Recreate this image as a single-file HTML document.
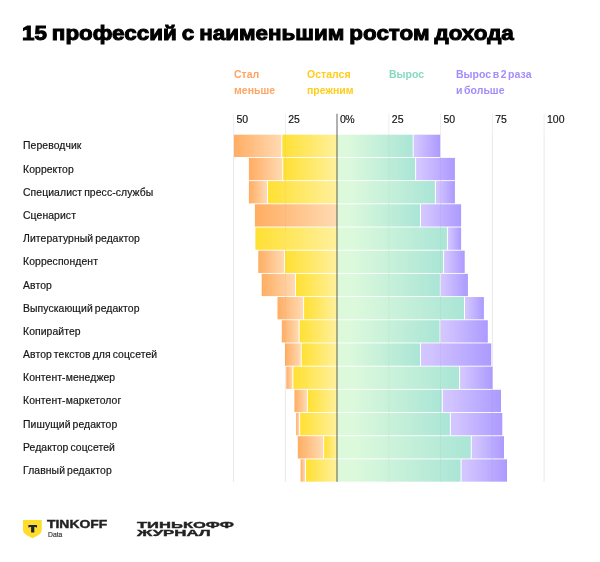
<!DOCTYPE html>
<html lang="ru"><head><meta charset="utf-8"><title>15 профессий с наименьшим ростом дохода</title>
<style>
html,body{margin:0;padding:0;background:#fff;}
body{width:600px;height:562px;position:relative;overflow:hidden;font-family:"Liberation Sans",sans-serif;color:#1a1a1a;}
.abs{position:absolute;white-space:nowrap;}
h1{position:absolute;left:22.4px;top:18.6px;margin:0;font-size:20.8px;line-height:28px;font-weight:700;letter-spacing:0;color:#000;white-space:nowrap;-webkit-text-stroke:1px #000;word-spacing:-1.2px;transform-origin:0 0;transform:scaleX(1.078);}
.lg{position:absolute;top:66px;font-size:10.5px;line-height:16.2px;font-weight:700;letter-spacing:0.02px;word-spacing:-1.4px;}
.ax{position:absolute;top:112.7px;font-size:10.5px;line-height:12px;color:#111;-webkit-text-stroke:0.15px #111;}
.gl{position:absolute;top:113.5px;width:1px;height:368.5px;background:#ececec;}
.gl2{position:absolute;top:134px;width:1px;height:348px;background:rgba(0,0,0,0.04);z-index:4;}
.zl{position:absolute;top:113px;left:336.6px;width:1.6px;height:369px;background:#979797;z-index:5;}
.lb{position:absolute;left:23px;font-size:10.4px;line-height:22px;height:22px;color:#151515;letter-spacing:0.09px;word-spacing:-1.0px;-webkit-text-stroke:0.18px #151515;white-space:nowrap;}
.s{position:absolute;height:22.3px;}
.o{background:linear-gradient(90deg,#ffa963,#ffd9bb);}
.y{background:linear-gradient(90deg,#ffe033,#fff0a0);}
.g{background:linear-gradient(90deg,#ddf9dc,#a9e5d6);}
.p{background:linear-gradient(90deg,#d3c4ff,#aa95fd);}
</style></head><body>
<h1>15 профессий с наименьшим ростом дохода</h1>
<div class="lg" style="left:234px;color:#ffa462">Стал<br>меньше</div>
<div class="lg" style="left:307px;color:#ffcd1a">Остался<br>прежним</div>
<div class="lg" style="left:389px;color:#86d9c0">Вырос</div>
<div class="lg" style="left:456px;color:#a48dfb">Вырос в 2 раза<br>и больше</div>

<div class="ax" style="left:236.5px">50</div>
<div class="ax" style="left:288.2px">25</div>
<div class="ax" style="left:391.8px">25</div>
<div class="ax" style="left:443.5px">50</div>
<div class="ax" style="left:495.2px">75</div>
<div class="ax" style="left:547.0px">100</div>
<div class="ax" style="left:340px;letter-spacing:-0.5px">0%</div>
<div class="lb" style="top:135.40px">Переводчик</div>
<div class="lb" style="top:158.59px">Корректор</div>
<div class="lb" style="top:181.78px">Специалист пресс-службы</div>
<div class="lb" style="top:204.97px">Сценарист</div>
<div class="lb" style="top:228.16px">Литературный редактор</div>
<div class="lb" style="top:251.35px">Корреспондент</div>
<div class="lb" style="top:274.54px">Автор</div>
<div class="lb" style="top:297.73px">Выпускающий редактор</div>
<div class="lb" style="top:320.92px">Копирайтер</div>
<div class="lb" style="top:344.11px">Автор текстов для соцсетей</div>
<div class="lb" style="top:367.30px">Контент-менеджер</div>
<div class="lb" style="top:390.49px">Контент-маркетолог</div>
<div class="lb" style="top:413.68px">Пишущий редактор</div>
<div class="lb" style="top:436.87px">Редактор соцсетей</div>
<div class="lb" style="top:460.06px">Главный редактор</div>
<svg class="abs" style="left:0;top:0" width="600" height="562" viewBox="0 0 600 562">
<defs><linearGradient id="o"><stop offset="0" stop-color="#ffad62"/><stop offset="1" stop-color="#ffdab3"/></linearGradient><linearGradient id="y"><stop offset="0" stop-color="#ffe033"/><stop offset="1" stop-color="#fff09c"/></linearGradient><linearGradient id="g"><stop offset="0" stop-color="#ddf9dc"/><stop offset="0.14" stop-color="#dcf9dc"/><stop offset="1" stop-color="#aae5d6"/></linearGradient><linearGradient id="p"><stop offset="0" stop-color="#d4c7ff"/><stop offset="0.1" stop-color="#d2c5ff"/><stop offset="1" stop-color="#ad9aff"/></linearGradient></defs>
<rect x="233.10" y="113.8" width="1" height="368" fill="#eeeeee"/>
<rect x="284.85" y="113.8" width="1" height="368" fill="#eeeeee"/>
<rect x="388.35" y="113.8" width="1" height="368" fill="#eeeeee"/>
<rect x="440.10" y="113.8" width="1" height="368" fill="#eeeeee"/>
<rect x="491.85" y="113.8" width="1" height="368" fill="#eeeeee"/>
<rect x="543.60" y="113.8" width="1" height="368" fill="#eeeeee"/>
<rect x="234.0" y="134.70" width="47.3" height="22.3" fill="url(#o)"/>
<rect x="282.3" y="134.70" width="54.7" height="22.3" fill="url(#y)"/>
<rect x="337.0" y="134.70" width="75.7" height="22.3" fill="url(#g)"/>
<rect x="413.7" y="134.70" width="26.4" height="22.3" fill="url(#p)"/>
<rect x="248.9" y="157.89" width="33.3" height="22.3" fill="url(#o)"/>
<rect x="283.2" y="157.89" width="53.8" height="22.3" fill="url(#y)"/>
<rect x="337.0" y="157.89" width="78.1" height="22.3" fill="url(#g)"/>
<rect x="416.1" y="157.89" width="38.8" height="22.3" fill="url(#p)"/>
<rect x="248.9" y="181.08" width="18.1" height="22.3" fill="url(#o)"/>
<rect x="268.0" y="181.08" width="69.0" height="22.3" fill="url(#y)"/>
<rect x="337.0" y="181.08" width="97.9" height="22.3" fill="url(#g)"/>
<rect x="435.9" y="181.08" width="19.0" height="22.3" fill="url(#p)"/>
<rect x="254.9" y="204.27" width="82.1" height="22.3" fill="url(#o)"/>
<rect x="337.0" y="204.27" width="83.0" height="22.3" fill="url(#g)"/>
<rect x="421.0" y="204.27" width="40.1" height="22.3" fill="url(#p)"/>
<rect x="255.4" y="227.46" width="81.6" height="22.3" fill="url(#y)"/>
<rect x="337.0" y="227.46" width="109.9" height="22.3" fill="url(#g)"/>
<rect x="447.9" y="227.46" width="13.2" height="22.3" fill="url(#p)"/>
<rect x="258.3" y="250.65" width="25.8" height="22.3" fill="url(#o)"/>
<rect x="285.1" y="250.65" width="51.9" height="22.3" fill="url(#y)"/>
<rect x="337.0" y="250.65" width="106.1" height="22.3" fill="url(#g)"/>
<rect x="444.1" y="250.65" width="20.6" height="22.3" fill="url(#p)"/>
<rect x="261.7" y="273.84" width="33.3" height="22.3" fill="url(#o)"/>
<rect x="296.0" y="273.84" width="41.0" height="22.3" fill="url(#y)"/>
<rect x="337.0" y="273.84" width="102.9" height="22.3" fill="url(#g)"/>
<rect x="440.9" y="273.84" width="27.0" height="22.3" fill="url(#p)"/>
<rect x="277.5" y="297.03" width="25.6" height="22.3" fill="url(#o)"/>
<rect x="304.1" y="297.03" width="32.9" height="22.3" fill="url(#y)"/>
<rect x="337.0" y="297.03" width="127.0" height="22.3" fill="url(#g)"/>
<rect x="465.0" y="297.03" width="18.9" height="22.3" fill="url(#p)"/>
<rect x="281.8" y="320.22" width="16.8" height="22.3" fill="url(#o)"/>
<rect x="299.6" y="320.22" width="37.4" height="22.3" fill="url(#y)"/>
<rect x="337.0" y="320.22" width="102.6" height="22.3" fill="url(#g)"/>
<rect x="440.6" y="320.22" width="47.2" height="22.3" fill="url(#p)"/>
<rect x="285.0" y="343.41" width="15.7" height="22.3" fill="url(#o)"/>
<rect x="301.7" y="343.41" width="35.3" height="22.3" fill="url(#y)"/>
<rect x="337.0" y="343.41" width="83.0" height="22.3" fill="url(#g)"/>
<rect x="421.0" y="343.41" width="70.2" height="22.3" fill="url(#p)"/>
<rect x="286.3" y="366.60" width="6.1" height="22.3" fill="url(#o)"/>
<rect x="293.4" y="366.60" width="43.6" height="22.3" fill="url(#y)"/>
<rect x="337.0" y="366.60" width="122.1" height="22.3" fill="url(#g)"/>
<rect x="460.1" y="366.60" width="32.4" height="22.3" fill="url(#p)"/>
<rect x="294.4" y="389.79" width="12.5" height="22.3" fill="url(#o)"/>
<rect x="307.9" y="389.79" width="29.1" height="22.3" fill="url(#y)"/>
<rect x="337.0" y="389.79" width="104.8" height="22.3" fill="url(#g)"/>
<rect x="442.8" y="389.79" width="58.2" height="22.3" fill="url(#p)"/>
<rect x="296.1" y="412.98" width="3.1" height="22.3" fill="url(#o)"/>
<rect x="300.2" y="412.98" width="36.8" height="22.3" fill="url(#y)"/>
<rect x="337.0" y="412.98" width="112.9" height="22.3" fill="url(#g)"/>
<rect x="450.9" y="412.98" width="51.4" height="22.3" fill="url(#p)"/>
<rect x="297.8" y="436.17" width="25.4" height="22.3" fill="url(#o)"/>
<rect x="324.2" y="436.17" width="12.8" height="22.3" fill="url(#y)"/>
<rect x="337.0" y="436.17" width="133.8" height="22.3" fill="url(#g)"/>
<rect x="471.8" y="436.17" width="32.2" height="22.3" fill="url(#p)"/>
<rect x="300.6" y="459.36" width="4.4" height="22.3" fill="url(#o)"/>
<rect x="306.0" y="459.36" width="31.0" height="22.3" fill="url(#y)"/>
<rect x="337.0" y="459.36" width="123.6" height="22.3" fill="url(#g)"/>
<rect x="461.6" y="459.36" width="45.4" height="22.3" fill="url(#p)"/>
<rect x="233.10" y="134" width="1" height="348" fill="#000" fill-opacity="0.028"/>
<rect x="284.85" y="134" width="1" height="348" fill="#000" fill-opacity="0.028"/>
<rect x="388.35" y="134" width="1" height="348" fill="#000" fill-opacity="0.028"/>
<rect x="440.10" y="134" width="1" height="348" fill="#000" fill-opacity="0.028"/>
<rect x="491.85" y="134" width="1" height="348" fill="#000" fill-opacity="0.028"/>
<rect x="543.60" y="134" width="1" height="348" fill="#000" fill-opacity="0.028"/>
<rect x="336.15" y="113.8" width="1.7" height="368" fill="#000" fill-opacity="0.36"/>
</svg>

<svg class="abs" style="left:23.1px;top:519.8px" width="18.8" height="18.3" viewBox="0 0 18.8 18.3"><path d="M0 0H18.8V9.6C18.8 12.2 17.6 13.8 15 15.3L9.4 18.3 3.8 15.3C1.2 13.8 0 12.2 0 9.6Z" fill="#ffdd2d"/><path d="M5.4 4.9H14V7.6H13.1L12.7 7H11.3V12.4H8.1V7H6.7L6.3 7.6H5.4Z" fill="#20253a"/></svg>
<div class="abs" id="tk" style="left:47.3px;top:519px;font-size:10px;line-height:12px;font-weight:700;color:#222;-webkit-text-stroke:0.35px #222;transform-origin:0 0;transform:scaleX(1.39)">TINKOFF</div>
<div class="abs" id="dt" style="left:47.6px;top:529.6px;font-size:7.8px;line-height:9px;color:#2a2a2a;-webkit-text-stroke:0.15px #2a2a2a;transform-origin:0 0;transform:scaleX(0.87)">Data</div>
<div class="abs" id="tj1" style="left:137.2px;top:519.7px;font-size:9px;line-height:10px;font-weight:700;color:#222;-webkit-text-stroke:0.35px #222;transform-origin:0 0;transform:scaleX(1.84)">ТИНЬКОФФ</div>
<div class="abs" id="tj2" style="left:137.2px;top:527.9px;font-size:9px;line-height:10px;font-weight:700;color:#222;-webkit-text-stroke:0.35px #222;transform-origin:0 0;transform:scaleX(1.87)">ЖУРНАЛ</div>
</body></html>
